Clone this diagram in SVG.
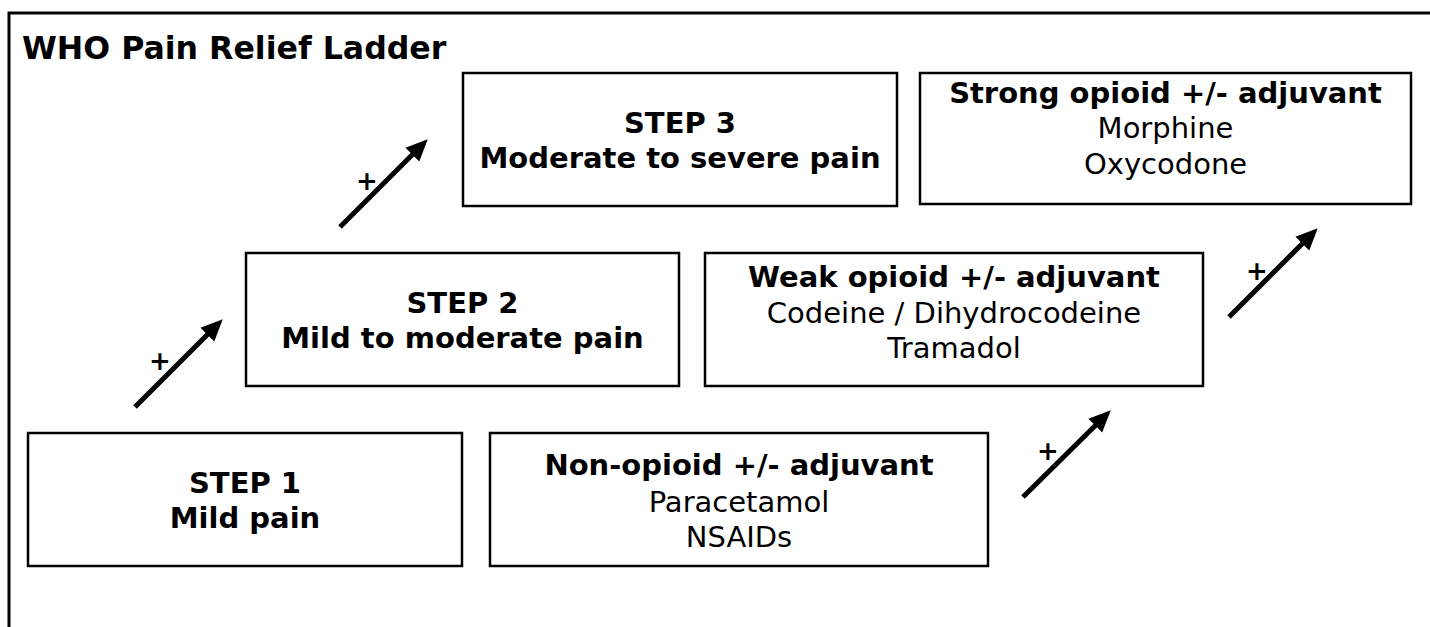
<svg xmlns="http://www.w3.org/2000/svg" width="1430" height="627" viewBox="0 0 1430 627">
<style>
.frame{fill:none;stroke:#000;stroke-width:3}
.box{fill:#fff;stroke:#000;stroke-width:2.5}
text{font-family:"DejaVu Sans",Verdana,sans-serif;fill:#000;text-anchor:middle}
.b{font-weight:bold;font-size:29px}
.r{font-size:29px}
.title{font-weight:bold;font-size:31.6px;text-anchor:start}
.plus{font-weight:bold;font-size:26px}
.arrow{stroke:#000;stroke-width:5;fill:none;marker-end:url(#ah)}
</style>
<defs>
<marker id="ah" markerUnits="userSpaceOnUse" markerWidth="24" markerHeight="24" viewBox="0 -10 22 20" refX="8" refY="0" orient="auto">
<path d="M0,-9 L20,0 L0,9 z" fill="#000"/>
</marker>
</defs>
<rect width="1430" height="627" fill="#fff"/>
<rect class="frame" x="9" y="13" width="1440" height="700"/>
<text class="title" x="22" y="59">WHO Pain Relief Ladder</text>

<g id="step1">
<rect class="box" x="28" y="433" width="434" height="133"/>
<text class="b" x="245" y="493">STEP 1</text>
<text class="b" x="245" y="528">Mild pain</text>
</g>
<g id="step1-drugs">
<rect class="box" x="490" y="433" width="498" height="133"/>
<text class="b" x="739" y="475">Non-opioid +/- adjuvant</text>
<text class="r" x="739" y="512">Paracetamol</text>
<text class="r" x="739" y="547">NSAIDs</text>
</g>
<g id="step2">
<rect class="box" x="246" y="253" width="433" height="133"/>
<text class="b" x="462.5" y="313">STEP 2</text>
<text class="b" x="462.5" y="348">Mild to moderate pain</text>
</g>
<g id="step2-drugs">
<rect class="box" x="705" y="253" width="498" height="133"/>
<text class="b" x="954" y="287">Weak opioid +/- adjuvant</text>
<text class="r" x="954" y="323">Codeine / Dihydrocodeine</text>
<text class="r" x="954" y="358">Tramadol</text>
</g>
<g id="step3">
<rect class="box" x="463" y="73" width="434" height="133"/>
<text class="b" x="680" y="133">STEP 3</text>
<text class="b" x="680" y="168">Moderate to severe pain</text>
</g>
<g id="step3-drugs">
<rect class="box" x="920" y="73" width="491" height="131"/>
<text class="b" x="1165.5" y="103">Strong opioid +/- adjuvant</text>
<text class="r" x="1165.5" y="138">Morphine</text>
<text class="r" x="1165.5" y="174">Oxycodone</text>
</g>

<g id="connectors">
<line class="arrow" x1="135" y1="407" x2="213.5" y2="328.5"/>
<line class="arrow" x1="340" y1="227" x2="418.5" y2="148.5"/>
<line class="arrow" x1="1023" y1="497" x2="1101.5" y2="419.5"/>
<line class="arrow" x1="1229" y1="317" x2="1308.5" y2="237.5"/>
<text class="plus" x="160" y="370">+</text>
<text class="plus" x="367" y="190">+</text>
<text class="plus" x="1048" y="460">+</text>
<text class="plus" x="1257" y="280">+</text>
</g>
</svg>
